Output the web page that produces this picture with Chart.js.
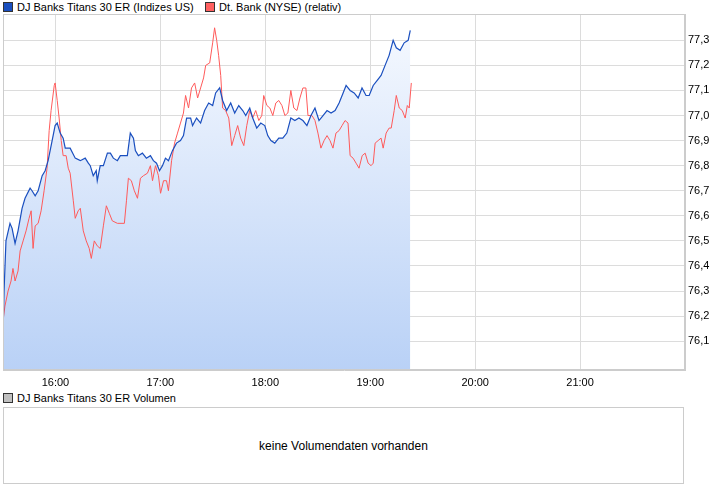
<!DOCTYPE html>
<html><head><meta charset="utf-8">
<script src="https://cdn.jsdelivr.net/npm/chart.js@4/dist/chart.umd.min.js"></script>
<style>
body{margin:0;background:#fff;font-family:"Liberation Sans",Arial,sans-serif;font-size:11px;color:#000}
#wrap{position:relative;width:726px;height:496px}
.leg{position:absolute;top:1px;white-space:nowrap}
.sq{display:inline-block;width:8px;height:8px;border:1px solid #333;vertical-align:-1px;margin-right:4px}
#vol{position:absolute;left:3px;top:407px;width:681px;height:77px;border:1px solid #ccc;box-sizing:border-box;text-align:center;line-height:77px;font-size:12px}
canvas{position:absolute;left:0;top:0}
</style></head><body>
<div id="wrap">
<div class="leg" style="left:3px"><span class="sq" style="background:#1a4fbf"></span>DJ Banks Titans 30 ER (Indizes US)</div>
<div class="leg" style="left:205px"><span class="sq" style="background:#ff6060"></span>Dt. Bank (NYSE) (relativ)</div>
<canvas id="c" width="726" height="392"></canvas>
<div class="leg" style="left:3px;top:392px"><span class="sq" style="background:#c0c0c0"></span>DJ Banks Titans 30 ER Volumen</div>
<div id="vol">keine Volumendaten vorhanden</div>
</div>
<script>
// minutes since 15:30
const blueT=[0,0.6,1.7,4.0,5.2,6.9,8.6,10.9,12.6,15.5,16.6,18.4,20.1,22.4,24.1,25.8,28.1,29.8,31.0,32.7,34.4,35.6,38.4,41.3,44.2,47.0,48.8,49.9,51.6,53.3,53.9,55.6,57.4,59.7,61.4,63.1,65.4,67.1,71.1,72.8,74.6,75.7,77.4,79.7,82.0,84.3,86.0,87.8,89.5,91.2,92.9,94.6,96.9,99.2,101.5,103.2,105.0,107.3,108.4,110.7,113.0,115.3,117.6,119.9,121.6,123.9,125.6,127.9,130.2,132.5,134.8,137.1,138.8,141.1,142.8,145.1,147.4,149.7,151.4,153.2,155.4,157.7,160.0,162.3,164.6,166.9,169.2,171.5,173.8,176.1,178.4,180.7,183.0,185.3,187.6,189.9,192.2,194.5,196.2,198.5,200.8,203.1,205.3,207.6,209.4,211.7,214.0,216.2,218.5,220.8,223.1,224.9,227.1,229.4,231.7,232.9];
const blueV=[76.12,76.30,76.50,76.57,76.55,76.49,76.54,76.63,76.67,76.71,76.70,76.68,76.70,76.76,76.78,76.82,76.90,76.96,76.97,76.93,76.91,76.87,76.87,76.83,76.82,76.83,76.81,76.80,76.76,76.78,76.74,76.80,76.80,76.85,76.85,76.83,76.82,76.84,76.84,76.93,76.91,76.86,76.84,76.85,76.83,76.84,76.82,76.81,76.78,76.80,76.83,76.82,76.86,76.89,76.90,76.92,76.99,76.99,76.96,76.99,76.97,77.02,77.05,77.04,77.09,77.11,77.06,77.02,77.05,77.01,77.04,77.02,77.00,77.03,76.99,76.95,76.97,76.96,76.92,76.90,76.89,76.91,76.91,76.93,76.99,76.98,76.99,76.98,76.96,77.00,77.03,76.98,77.00,77.02,77.01,77.02,77.05,77.09,77.12,77.10,77.09,77.07,77.11,77.08,77.08,77.12,77.14,77.16,77.20,77.24,77.30,77.27,77.26,77.29,77.30,77.34];
const redT=[0,1.1,2.9,4.6,5.7,6.9,8.6,9.8,11.5,13.2,14.9,16.1,17.2,18.4,20.1,21.8,23.5,25.2,26.4,27.5,29.3,29.8,31.0,32.1,33.3,34.4,36.1,37.3,38.4,40.2,41.3,43.0,44.2,45.9,47.6,49.3,50.5,52.2,53.9,55.6,57.4,59.1,60.8,62.5,65.4,69.4,70.6,71.7,73.4,75.1,76.9,78.6,80.3,82.6,84.3,85.5,87.2,88.9,90.1,91.8,93.5,94.6,96.4,98.1,99.8,101.5,103.2,104.4,106.1,107.8,109.6,111.3,113.0,114.7,115.9,118.2,119.9,121.0,122.2,123.3,124.5,125.6,127.3,129.1,130.8,132.5,134.2,135.9,137.7,139.4,141.1,142.8,144.5,146.3,148.0,149.1,150.9,152.6,154.3,156.0,157.7,159.5,161.2,162.9,164.6,166.3,168.1,169.8,171.5,173.2,174.4,176.7,178.4,180.1,181.8,183.6,185.3,187.0,188.7,190.4,192.2,193.9,195.6,197.3,198.5,200.2,201.9,203.6,205.4,207.1,208.8,210.5,211.7,212.8,214.5,216.2,217.4,219.1,220.8,222.0,223.7,224.9,226.6,228.3,230.0,231.2,232.3,233.5];
const redV=[76.18,76.24,76.30,76.34,76.39,76.34,76.38,76.46,76.50,76.54,76.59,76.62,76.47,76.56,76.57,76.62,76.70,76.79,76.94,77.02,77.12,77.13,77.06,76.99,76.90,76.84,76.84,76.79,76.77,76.66,76.59,76.62,76.63,76.54,76.50,76.47,76.43,76.50,76.48,76.47,76.56,76.64,76.61,76.58,76.57,76.57,76.66,76.75,76.74,76.70,76.67,76.75,76.76,76.77,76.80,76.74,76.80,76.76,76.69,76.74,76.74,76.70,76.82,76.89,76.93,76.97,77.01,77.08,77.03,77.11,77.13,77.07,77.11,77.15,77.20,77.21,77.29,77.35,77.30,77.24,77.16,77.03,77.02,76.99,76.88,76.92,76.96,76.91,76.88,76.96,77.02,76.99,77.02,76.98,77.00,77.08,77.04,77.03,77.00,77.05,77.06,77.04,77.00,77.01,77.10,77.03,77.02,77.07,77.11,77.11,77.00,77.00,76.98,76.93,76.87,76.90,76.92,76.90,76.87,76.93,76.94,76.96,76.98,76.97,76.84,76.83,76.81,76.79,76.84,76.85,76.81,76.80,76.81,76.89,76.90,76.91,76.87,76.93,76.95,76.95,77.02,77.08,77.03,77.02,76.99,77.04,77.03,77.13];
const yTicks=[76.1,76.2,76.3,76.4,76.5,76.6,76.7,76.8,76.9,77.0,77.1,77.2,77.3];
const xTicks=[30,90,150,210,270,330];
const xLabels=["16:00","17:00","18:00","19:00","20:00","21:00"];
const xy=(t,v)=>t.map((x,i)=>({x,y:v[i]}));
const ctx=document.getElementById('c').getContext('2d');
new Chart(ctx,{type:'line',
data:{datasets:[
{data:xy(blueT,blueV),borderColor:'#1a4fbf',borderWidth:1.2,pointRadius:0,tension:0,
 fill:'start',backgroundColor:(c)=>{const a=c.chart.chartArea;if(!a)return '#dde8fa';const g=c.chart.ctx.createLinearGradient(0,a.top,0,a.bottom);g.addColorStop(0,'#f7faff');g.addColorStop(1,'#b9d1f6');return g;}},
{data:xy(redT,redV),borderColor:'#ff5a5a',borderWidth:1,pointRadius:0,tension:0,fill:false}
]},
options:{animation:false,responsive:false,events:[],
layout:{padding:{top:14,left:3,right:0,bottom:0}},
plugins:{legend:{display:false},tooltip:{enabled:false},filler:{drawTime:'beforeDatasetsDraw'}},
scales:{
x:{type:'linear',min:0,max:390,
 afterBuildTicks:s=>{s.ticks=xTicks.map(v=>({value:v}));},
 afterFit:s=>{s.height=22;},
 grid:{color:'#dcdcdc',drawTicks:false},border:{color:'#ccc'},
 ticks:{maxRotation:0,padding:6,color:'#000',font:{family:'Liberation Sans',size:11},callback:(v)=>xLabels[xTicks.indexOf(v)]}},
y:{position:'right',min:75.985,max:77.405,
 afterBuildTicks:s=>{s.ticks=yTicks.map(v=>({value:v}));},
 afterFit:s=>{s.width=41;},
 grid:{color:'#dcdcdc',drawTicks:false},border:{color:'#ccc'},
 ticks:{padding:3,color:'#000',font:{family:'Liberation Sans',size:11},callback:v=>v.toFixed(1).replace('.',',')}}
}},
plugins:[{id:'box',afterDraw(c){const a=c.chartArea,g=c.ctx;g.save();g.strokeStyle='#ccc';g.lineWidth=1;g.strokeRect(a.left+0.5,a.top+0.5,a.width-1,a.height-1);g.restore();}}]
});
</script></body></html>
